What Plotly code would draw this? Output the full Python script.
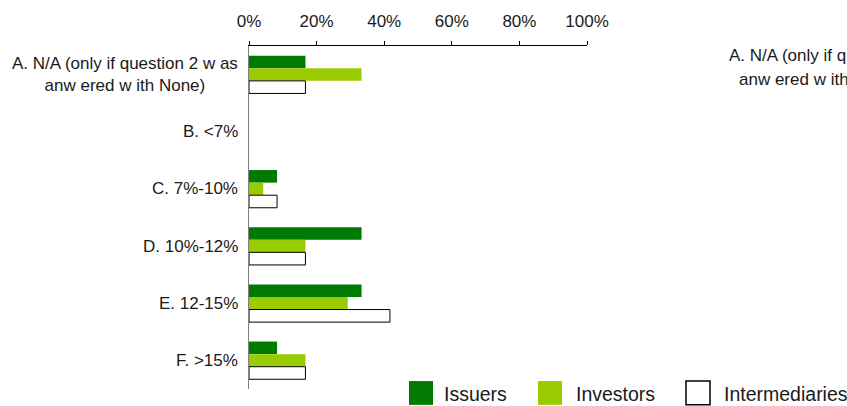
import plotly.graph_objects as go

# Survey answer categories (top to bottom)
categories = ["A", "B", "C", "D", "E", "F"]
category_labels = [
    "A. N/A (only if question 2 w as<br>anw ered w ith None)",
    "B. <7%",
    "C. 7%-10%",
    "D. 10%-12%",
    "E. 12-15%",
    "F. >15%",
]

# Share of respondents per group
issuers = [0.167, 0.0, 0.083, 0.333, 0.333, 0.083]
investors = [0.333, 0.0, 0.042, 0.167, 0.292, 0.167]
intermediaries = [0.167, 0.0, 0.083, 0.167, 0.417, 0.167]

x_ticks = [0, 0.2, 0.4, 0.6, 0.8, 1.0]
x_tick_text = ["0%", "20%", "40%", "60%", "80%", "100%"]

series_names = ["Issuers", "Investors", "Intermediaries"]

W, H = 847, 406
ML, MR, MT, MB = 249, 260, 43, 17
PW, PH = W - ML - MR, H - MT - MB

FONT = "Liberation Sans, Arial, sans-serif"
TEXT = "#1a1a1a"
DARK_GREEN = "#007A00"
LIME = "#99CC00"
LABEL_SIZE = 17
LEGEND_SIZE = 19.5


def px_x(p):
    return (p - ML) / PW


def px_y(p):
    return (H - MB - p) / PH


fig = go.Figure()
fig.add_trace(go.Bar(name=series_names[0], y=categories, x=issuers, orientation="h",
                     marker=dict(color=DARK_GREEN, line=dict(width=0))))
fig.add_trace(go.Bar(name=series_names[1], y=categories, x=investors, orientation="h",
                     marker=dict(color=LIME, line=dict(width=0))))
# Outlined bars; no outline on empty bars so nothing shows at zero
fig.add_trace(go.Bar(name=series_names[2], y=categories, x=intermediaries, orientation="h",
                     marker=dict(color="white",
                                 line=dict(color="#000000",
                                           width=[1 if v > 0 else 0 for v in intermediaries]))))

annotations = []
for cat, lab in zip(categories, category_labels):
    annotations.append(dict(
        x=0, xref="paper", y=cat, yref="y", text=lab, showarrow=False,
        xanchor="right", yanchor="middle", xshift=-9, align="center",
        font=dict(family=FONT, size=LABEL_SIZE, color=TEXT)))

# Second copy of the first label, running off the right edge
annotations.append(dict(x=px_x(727), xref="paper", y=px_y(53), yref="paper",
                        text="A. N/A (only if question 2 w as", showarrow=False,
                        xanchor="left", yanchor="middle",
                        font=dict(family=FONT, size=LABEL_SIZE, color=TEXT)))
annotations.append(dict(x=px_x(737), xref="paper", y=px_y(77), yref="paper",
                        text="anw ered w ith None)", showarrow=False,
                        xanchor="left", yanchor="middle",
                        font=dict(family=FONT, size=LABEL_SIZE, color=TEXT)))

# Custom legend with large swatches
shapes = []
legend_items = [
    (series_names[0], DARK_GREEN, DARK_GREEN, 409, 442),
    (series_names[1], LIME, LIME, 538, 574),
    (series_names[2], "white", "#000000", 686, 722),
]
for name, fill, edge, sx, tx in legend_items:
    shapes.append(dict(type="rect", xref="paper", yref="paper",
                       x0=px_x(sx), x1=px_x(sx + 24), y0=px_y(405), y1=px_y(381),
                       fillcolor=fill, line=dict(color=edge, width=1.5 if fill == "white" else 0)))
    annotations.append(dict(x=px_x(tx), xref="paper", y=px_y(394), yref="paper",
                            text=name, showarrow=False, xanchor="left", yanchor="middle",
                            font=dict(family=FONT, size=LEGEND_SIZE, color=TEXT)))

fig.update_layout(
    width=W, height=H, autosize=False,
    margin=dict(l=ML, r=MR, t=MT, b=MB, pad=0),
    paper_bgcolor="white", plot_bgcolor="white",
    barmode="group", bargap=0.34, bargroupgap=0,
    showlegend=False,
    font=dict(family=FONT, size=LABEL_SIZE, color=TEXT),
    annotations=annotations, shapes=shapes,
    xaxis=dict(side="top", range=[0, 1.0], tickvals=x_ticks, ticktext=x_tick_text,
               showgrid=False, zeroline=False, showline=True, linecolor="#000000",
               linewidth=1, ticks="outside", ticklen=4, tickcolor="#000000",
               ticklabelstandoff=7, tickfont=dict(family=FONT, size=LABEL_SIZE, color=TEXT)),
    yaxis=dict(autorange="reversed", showticklabels=False, showgrid=False,
               zeroline=False, showline=True, linecolor="#808080", linewidth=1,
               ticks=""),
)

fig.write_html("out.html")
